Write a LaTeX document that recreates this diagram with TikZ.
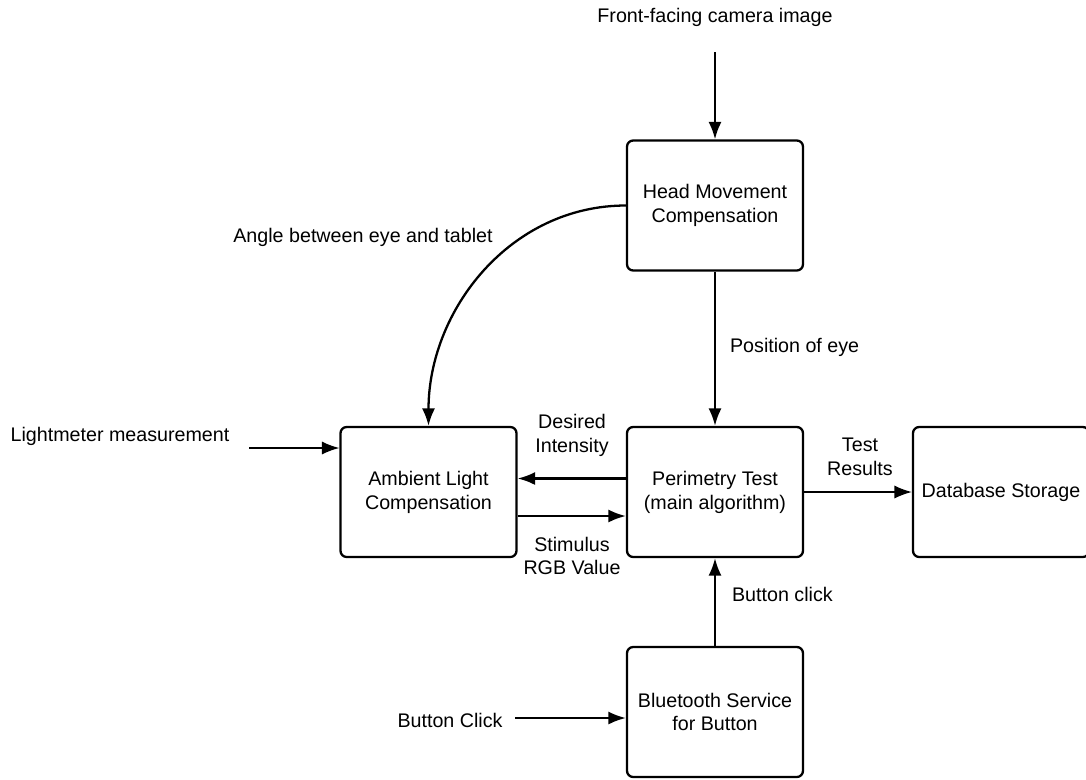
\documentclass[tikz,border=0pt]{standalone}
\usepackage{fontspec}
\setmainfont{Liberation Sans}
\usetikzlibrary{arrows.meta,positioning}

\begin{document}
\begin{tikzpicture}[x=0.02cm, y=-0.02cm, font=\fontsize{11.2}{13.6}\selectfont,
block/.style={draw,line width=1.3pt,rounded corners=3.5pt,minimum width=3.52cm,minimum height=2.6cm,align=center},
lbl/.style={align=center,inner sep=1pt},
arr/.style={-{Latex[length=10pt,width=7.5pt]},line width=1.3pt},
thinarr/.style={arr,line width=0.8pt}]
\useasboundingbox (0,0) rectangle (1086,779);
% processing blocks
\node[block] (head) at (715,205.5) {Head Movement\\Compensation};
\node[block] (ambient) at (428.5,492) {Ambient Light\\Compensation};
\node[block] (perimetry) at (715,492) {Perimetry Test\\(main algorithm)};
\node[block] (storage) at (1001,492) {Database Storage};
\node[block] (bluetooth) at (715,712) {Bluetooth Service\\for Button};
% external inputs
\node[lbl] (camera) at (715,17) {Front-facing camera image};
\coordinate (camin) at (715,52);
\node[lbl] (lightmeter) at (120,436) {Lightmeter measurement};
\coordinate (lightin) at (249,448);
\node[lbl] (click) at (450,720) {Button Click};
\coordinate (clickin) at (515,718);
\draw[arr] (camin) -- (head.north);
\draw[thinarr] (lightin) -- (lightin -| ambient.west);
\draw[arr] (clickin) -- (clickin -| bluetooth.west);
% data flow between blocks
\draw[arr] (head.south) -- (perimetry.north);
\draw[arr] (head.west) to[out=180,in=90] (ambient.north);
\draw[arr] ([yshift=0.27cm]perimetry.west) -- ([yshift=0.27cm]ambient.east);
\draw[arr] ([yshift=-0.48cm]ambient.east) -- ([yshift=-0.48cm]perimetry.west);
\draw[thinarr] (perimetry.east) -- (storage.west);
\draw[arr] (bluetooth.north) -- (perimetry.south);
% connector labels
\node[lbl] (angle) at (363,237) {Angle between eye and tablet};
\node[lbl,anchor=west] (position) at (728,347) {Position of eye};
\node[lbl] (desired) at (572,435) {Desired\\Intensity};
\node[lbl] (stimulus) at (572,556) {Stimulus\\RGB Value};
\node[lbl] (results) at (860,457) {Test\\Results};
\node[lbl,anchor=west] (pressed) at (730,594) {Button click};
\end{tikzpicture}
\end{document}
